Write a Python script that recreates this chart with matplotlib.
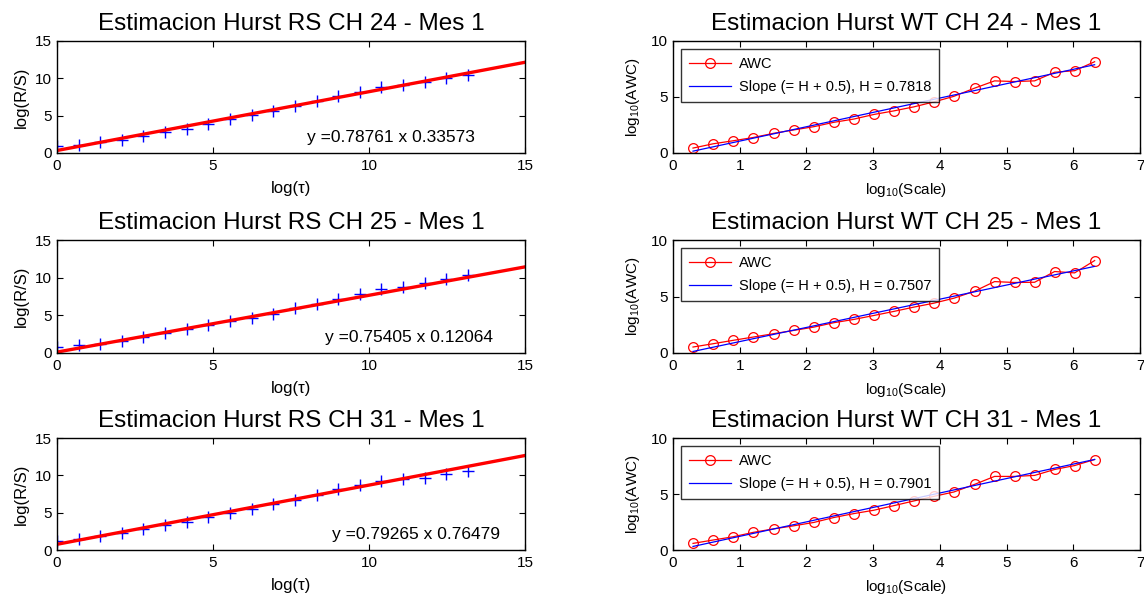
import matplotlib
matplotlib.use("Agg")
import matplotlib.pyplot as plt

plt.rcParams['font.family'] = ['Liberation Sans', 'DejaVu Sans']
plt.rcParams['mathtext.fontset'] = 'custom'
plt.rcParams['mathtext.rm'] = 'Liberation Sans'
plt.rcParams['mathtext.it'] = 'Liberation Sans:italic'

# ---- R/S analysis data ----
channels = ["24", "25", "31"]
log_tau = [0.00, 0.69, 1.39, 2.08, 2.77, 3.47, 4.16, 4.85, 5.55, 6.24,
           6.93, 7.62, 8.32, 9.01, 9.70, 10.40, 11.09, 11.78, 12.48, 13.17]
log_rs_ch24 = [0.89, 1.10, 1.42, 1.78, 2.31, 2.80, 3.25, 3.87, 4.54, 5.12,
               5.65, 6.32, 7.03, 7.61, 8.23, 8.90, 9.08, 9.57, 10.00, 10.46]
log_rs_ch25 = [0.80, 1.02, 1.24, 1.60, 2.13, 2.66, 3.24, 3.68, 4.26, 4.70,
               5.24, 6.00, 6.57, 7.15, 7.77, 8.43, 8.70, 9.23, 9.77, 10.34]
log_rs_ch31 = [1.20, 1.51, 1.87, 2.23, 2.76, 3.29, 3.78, 4.45, 4.98, 5.52,
               6.19, 6.76, 7.34, 8.19, 8.77, 9.21, 9.52, 9.66, 10.24, 10.55]
rs_slopes = [0.78761, 0.75405, 0.79265]
rs_intercepts = [0.33573, 0.12064, 0.76479]
rs_text_x = [8.0, 8.6, 8.8]
rs_text_y = [2.1, 2.1, 2.1]

# ---- wavelet analysis data ----
log_scale = [0.30, 0.60, 0.90, 1.20, 1.51, 1.81, 2.11, 2.41, 2.71, 3.01, 3.31,
             3.61, 3.91, 4.21, 4.52, 4.82, 5.12, 5.42, 5.72, 6.02, 6.32]
awc_ch24 = [0.44, 0.82, 1.09, 1.38, 1.76, 2.06, 2.35, 2.74, 3.03, 3.44, 3.76,
            4.12, 4.56, 5.06, 5.79, 6.44, 6.38, 6.44, 7.21, 7.35, 8.15]
awc_ch25 = [0.53, 0.82, 1.12, 1.41, 1.71, 2.00, 2.29, 2.68, 2.97, 3.32, 3.68,
            4.06, 4.41, 4.85, 5.47, 6.32, 6.24, 6.26, 7.21, 7.09, 8.18]
awc_ch31 = [0.59, 0.89, 1.18, 1.57, 1.89, 2.16, 2.46, 2.90, 3.25, 3.55, 3.96,
            4.38, 4.79, 5.18, 5.86, 6.57, 6.57, 6.66, 7.19, 7.54, 8.08]
hurst_wt = [0.7818, 0.7507, 0.7901]
wt_intercepts = [-0.22, -0.24, -0.07]

rs_series = [log_rs_ch24, log_rs_ch25, log_rs_ch31]
awc_series = [awc_ch24, awc_ch25, awc_ch31]

fig = plt.figure(figsize=(11.44, 5.97), dpi=100)
W, H = 1144, 597
rows_px = [(41, 153), (240, 353), (438, 550)]
left_px = (57, 525)
right_px = (673, 1140)


def frame(ax):
    ax.tick_params(direction='in', top=True, right=True, length=4, width=0.8,
                   labelsize=11, pad=4, colors='black')
    for s in ax.spines.values():
        s.set_linewidth(1.0)
        s.set_color('black')


for i, (top, bot) in enumerate(rows_px):
    # R/S panel
    ax = fig.add_axes([left_px[0] / W, 1 - bot / H,
                       (left_px[1] - left_px[0]) / W, (bot - top) / H])
    frame(ax)
    ax.plot(log_tau, rs_series[i], '+', color='blue', ms=8, mew=1.0)
    xs = [0, 15]
    ys = [rs_intercepts[i] + rs_slopes[i] * x for x in xs]
    ax.plot(xs, ys, '-', color='red', lw=2.4)
    ax.set_xlim(0, 15)
    ax.set_ylim(0, 15)
    ax.set_xticks([0, 5, 10, 15])
    ax.set_yticks([0, 5, 10, 15])
    ax.set_title(f"Estimacion Hurst RS CH {channels[i]} - Mes 1", fontsize=17.5, pad=8)
    ax.set_xlabel("log(τ)", fontsize=12, labelpad=6)
    ax.set_ylabel("log(R/S)", fontsize=12, labelpad=4)
    ax.text(rs_text_x[i], rs_text_y[i],
            f"y ={rs_slopes[i]:.5f} x {rs_intercepts[i]:.5f}",
            fontsize=12.5, va='center', ha='left')

    # wavelet panel
    ax2 = fig.add_axes([right_px[0] / W, 1 - bot / H,
                        (right_px[1] - right_px[0]) / W, (bot - top) / H])
    frame(ax2)
    ax2.plot(log_scale, awc_series[i], '-o', color='red', lw=0.9, ms=7,
             mfc='none', mew=0.9, label='AWC')
    slope = hurst_wt[i] + 0.5
    lx = [log_scale[0], log_scale[-1]]
    ly = [wt_intercepts[i] + slope * x for x in lx]
    ax2.plot(lx, ly, '-', color='blue', lw=0.9,
             label=f"Slope (= H + 0.5), H = {hurst_wt[i]:.4f}")
    ax2.set_xlim(0, 7)
    ax2.set_ylim(0, 10)
    ax2.set_xticks(range(0, 8))
    ax2.set_yticks([0, 5, 10])
    ax2.set_title(f"Estimacion Hurst WT CH {channels[i]} - Mes 1", fontsize=17.5, pad=8)
    ax2.set_xlabel("log$_{10}$(Scale)", fontsize=11, labelpad=6)
    ax2.set_ylabel("log$_{10}$(AWC)", fontsize=11, labelpad=6)
    leg = ax2.legend(loc='upper left', fontsize=10.5, frameon=True, fancybox=False,
                     edgecolor='black', borderaxespad=0.55, handlelength=2.9,
                     handletextpad=0.5, borderpad=0.55, labelspacing=0.6)
    leg.get_frame().set_linewidth(1.0)

fig.savefig("out.png", dpi=100)
